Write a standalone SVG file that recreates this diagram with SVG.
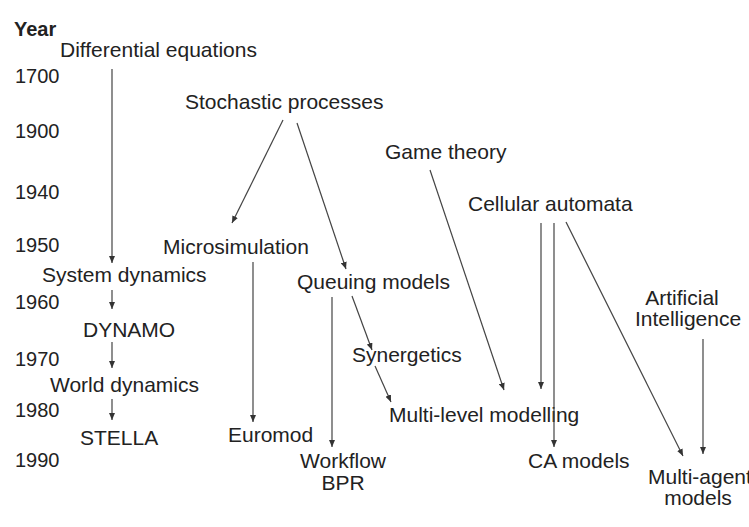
<svg xmlns="http://www.w3.org/2000/svg" width="749" height="527" viewBox="0 0 749 527">
<defs>
<marker id="ah" markerWidth="8" markerHeight="6" refX="7" refY="3" orient="auto" markerUnits="userSpaceOnUse">
<path d="M0,0 L7,3 L0,6 z" fill="#333"/>
</marker>
<style>
text{font-family:"Liberation Sans",Arial,sans-serif;font-size:21px;fill:#222}
.yr{font-size:20px}
.b{font-weight:bold}
.c line{stroke:#444;stroke-width:1.2;marker-end:url(#ah)}
</style>
</defs>
<rect width="749" height="527" fill="#fff"/>
<g id="axis">
<text class="b yr" x="14" y="36">Year</text>
<text class="yr" x="15" y="83">1700</text>
<text class="yr" x="15" y="138">1900</text>
<text class="yr" x="15" y="199">1940</text>
<text class="yr" x="15" y="252">1950</text>
<text class="yr" x="15" y="309">1960</text>
<text class="yr" x="15" y="366">1970</text>
<text class="yr" x="15" y="417">1980</text>
<text class="yr" x="15" y="467">1990</text>
</g>
<g id="n-diffeq"><text x="60" y="57">Differential equations</text></g>
<g id="n-stoch"><text x="185" y="109">Stochastic processes</text></g>
<g id="n-game"><text x="385" y="159">Game theory</text></g>
<g id="n-ca"><text x="468" y="211">Cellular automata</text></g>
<g id="n-micro"><text x="163" y="254">Microsimulation</text></g>
<g id="n-sysdyn"><text x="42" y="282">System dynamics</text></g>
<g id="n-queue"><text x="297" y="289">Queuing models</text></g>
<g id="n-dynamo"><text x="83" y="337">DYNAMO</text></g>
<g id="n-ai"><text x="682" y="305" text-anchor="middle">Artificial</text><text x="688" y="326" text-anchor="middle">Intelligence</text></g>
<g id="n-syn"><text x="352" y="362">Synergetics</text></g>
<g id="n-world"><text x="50" y="392">World dynamics</text></g>
<g id="n-mlm"><text x="389" y="422">Multi-level modelling</text></g>
<g id="n-stella"><text x="80" y="445">STELLA</text></g>
<g id="n-euromod"><text x="228" y="442">Euromod</text></g>
<g id="n-workflow"><text x="343" y="468" text-anchor="middle">Workflow</text><text x="343" y="490" text-anchor="middle">BPR</text></g>
<g id="n-camodels"><text x="528" y="468">CA models</text></g>
<g id="n-mas"><text x="648" y="484">Multi-agent</text><text x="698" y="505" text-anchor="middle">models</text></g>
<g id="connectors" class="c">
<line x1="112" y1="69" x2="112" y2="263"/>
<line x1="112" y1="290" x2="112" y2="309"/>
<line x1="112" y1="342" x2="112" y2="368"/>
<line x1="112" y1="399" x2="112" y2="420"/>
<line x1="283" y1="120" x2="232" y2="223"/>
<line x1="297" y1="123" x2="346" y2="269"/>
<line x1="253" y1="262" x2="253" y2="422"/>
<line x1="332" y1="297" x2="332" y2="447"/>
<line x1="352" y1="296" x2="372" y2="350"/>
<line x1="375" y1="366" x2="391" y2="402"/>
<line x1="430" y1="170" x2="504" y2="390"/>
<line x1="541" y1="223" x2="541" y2="389"/>
<line x1="554" y1="223" x2="554" y2="447"/>
<line x1="566" y1="222" x2="683" y2="456"/>
<line x1="703" y1="339" x2="703" y2="454"/>
</g>
</svg>
